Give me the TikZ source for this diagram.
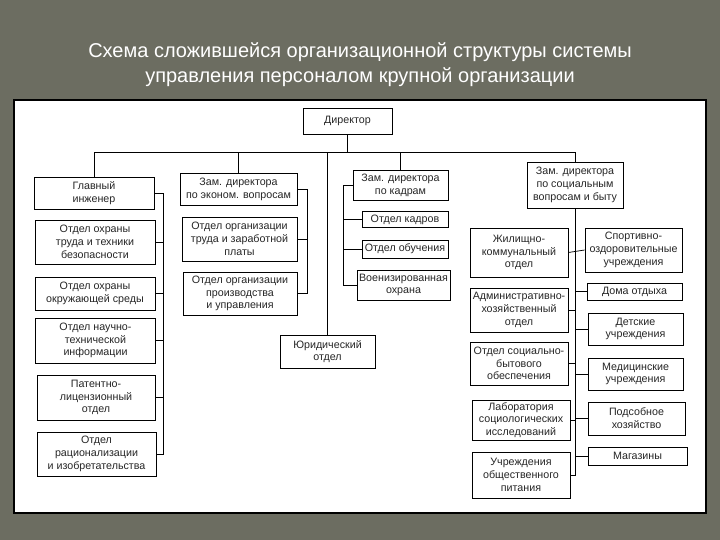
\documentclass[tikz,border=0pt]{standalone}
\usepackage{fontspec}
\setmainfont{Liberation Sans}
\definecolor{bg}{HTML}{6C6D61}
\begin{document}
\begin{tikzpicture}[x=1pt,y=-1pt,
  box/.style={draw=black, line width=0.75pt, fill=white, align=center, inner sep=0pt,
    font=\fontsize{10.7}{12.8}\selectfont, text=black!85},
  conn/.style={draw=black, line width=0.75pt},
  ttl/.style={text=white, font=\fontsize{20}{24}\selectfont, inner sep=0pt}]
\useasboundingbox (0,0) rectangle (720,540);
\fill[bg] (0,0) rectangle (720,540);
\draw[fill=white, line width=2pt] (14,100) rectangle (706,513);
\node[ttl] (t1) at (360,52) {Схема сложившейся организационной структуры системы};
\node[ttl] (t2) at (360,77) {управления персоналом крупной организации};
% top
\node[box, minimum width=89, minimum height=26] (dir) at (347.5,121) {Директор};
% left column
\node[box, minimum width=120, minimum height=32] (gi) at (94,193) {Главный\\инженер};
\node[box, minimum width=120, minimum height=44] (ot1) at (95,242) {Отдел охраны\\труда и техники\\безопасности};
\node[box, minimum width=120, minimum height=33] (ot2) at (95,293.5) {Отдел охраны\\окружающей среды};
\node[box, minimum width=120, minimum height=45] (ot3) at (95.5,340.5) {Отдел научно-\\технической\\информации};
\node[box, minimum width=118, minimum height=45] (ot4) at (96,397.5) {Патентно-\\лицензионный\\отдел};
\node[box, minimum width=119, minimum height=44] (ot5) at (96.5,454) {Отдел\\рационализации\\и изобретательства};
% economics
\node[box, minimum width=117, minimum height=32] (ze) at (238.5,189) {Зам. директора\\по эконом. вопросам};
\node[box, minimum width=115, minimum height=44] (oe1) at (239.5,239) {Отдел организации\\труда и заработной\\платы};
\node[box, minimum width=114, minimum height=43] (oe2) at (240,293.5) {Отдел организации\\производства\\и управления};
% legal
\node[box, minimum width=95, minimum height=33] (jur) at (327.5,351.5) {Юридический\\отдел};
% personnel
\node[box, minimum width=95, minimum height=30] (zk) at (400.5,185) {Зам. директора\\по кадрам};
\node[box, minimum width=86, minimum height=16] (ok1) at (405,219.5) {Отдел кадров};
\node[box, minimum width=86, minimum height=18] (ok2) at (405,249) {Отдел обучения};
\node[box, minimum width=93, minimum height=30] (ok3) at (403.5,285) {Военизированная\\охрана};
% social
\node[box, minimum width=96, minimum height=46] (zs) at (575,185) {Зам. директора\\по социальным\\вопросам и быту};
\node[box, minimum width=98, minimum height=49] (s1) at (519,252.5) {Жилищно-\\коммунальный\\отдел};
\node[box, minimum width=98, minimum height=44] (s2) at (519,310) {Административно-\\хозяйственный\\отдел};
\node[box, minimum width=98, minimum height=43] (s3) at (519,363.5) {Отдел социально-\\бытового\\обеспечения};
\node[box, minimum width=98, minimum height=40] (s4) at (521,420) {Лаборатория\\социологических\\исследований};
\node[box, minimum width=98, minimum height=46] (s5) at (521,475) {Учреждения\\общественного\\питания};
\node[box, minimum width=97, minimum height=44] (r1) at (633.5,250) {Спортивно-\\оздоровительные\\учреждения};
\node[box, minimum width=95, minimum height=17] (r2) at (634.5,291.5) {Дома отдыха};
\node[box, minimum width=95, minimum height=32] (r3) at (635.5,329) {Детские\\учреждения};
\node[box, minimum width=95, minimum height=32] (r4) at (635.5,374) {Медицинские\\учреждения};
\node[box, minimum width=97, minimum height=33] (r5) at (636.5,418.5) {Подсобное\\хозяйство};
\node[box, minimum width=99, minimum height=18] (r6) at (637.5,456) {Магазины};
% bus and spines
\coordinate (bus) at (0,152);
\coordinate (gsp) at (163,0);
\coordinate (esp) at (307,0);
\coordinate (ksp) at (343,0);
\path[conn] (dir.south) -- (dir.south |- bus);
\path[conn] (gi.north) -- (gi.north |- bus) -- (zs.north |- bus) -- (zs.north);
\path[conn] (ze.north) -- (ze.north |- bus);
\path[conn] (jur.north) -- (jur.north |- bus);
\path[conn] (zk.north) -- (zk.north |- bus);
% chief engineer
\path[conn] (gi.east) -- (gi.east -| gsp) -- (ot5.east -| gsp) -- (ot5.east);
\path[conn] (ot1.east) -- (ot1.east -| gsp);
\path[conn] (ot2.east) -- (ot2.east -| gsp);
\path[conn] (ot3.east) -- (ot3.east -| gsp);
\path[conn] (ot4.east) -- (ot4.east -| gsp);
% economics
\path[conn] (ze.east) -- (ze.east -| esp) -- (oe2.east -| esp) -- (oe2.east);
\path[conn] (oe1.east) -- (oe1.east -| esp);
% personnel
\path[conn] (zk.west) -- (zk.west -| ksp) -- (ok3.west -| ksp) -- (ok3.west);
\path[conn] (ok1.west) -- (ok1.west -| ksp);
\path[conn] (ok2.west) -- (ok2.west -| ksp);
% social
\path[conn] (zs.south) -- (zs.south |- s5.east) -- (s5.east);
\path[conn] (s1.east) -- (r1.west);
\path[conn] (s2.east) -- (s2.east -| zs.south);
\path[conn] (s3.east) -- (s3.east -| zs.south);
\path[conn] (s4.east) -- (s4.east -| zs.south);
\path[conn] (r2.west) -- (r2.west -| zs.south);
\path[conn] (r3.west) -- (r3.west -| zs.south);
\path[conn] (r4.west) -- (r4.west -| zs.south);
\path[conn] (r5.west) -- (r5.west -| zs.south);
\path[conn] (r6.west) -- (r6.west -| zs.south);
\end{tikzpicture}
\end{document}
